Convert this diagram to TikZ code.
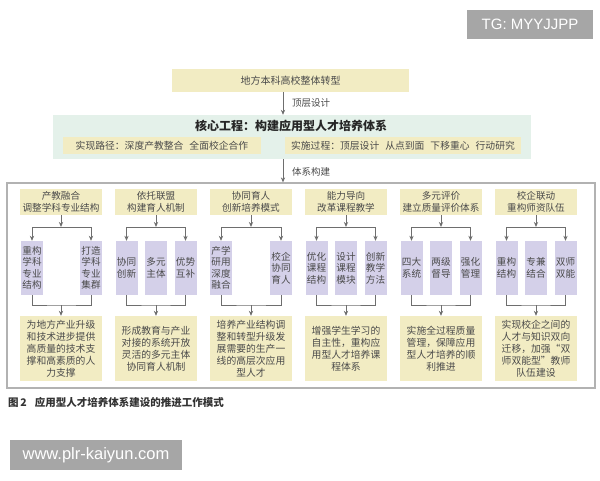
\documentclass[tikz,border=0pt]{standalone}
\usepackage{fontspec}
\setmainfont{Noto Sans CJK SC}
\newfontfamily\wmfont{Liberation Sans}
\usetikzlibrary{arrows.meta}

\definecolor{boxyellow}{HTML}{F2ECC3}
\definecolor{boxmint}{HTML}{E4F1EA}
\definecolor{boxpurple}{HTML}{D4D0E9}
\definecolor{textgray}{HTML}{4A4A4A}
\definecolor{linegray}{HTML}{6E6E6E}
\definecolor{wmgray}{HTML}{A6A6A6}

\newcommand{\gapsp}{\hspace{6pt}}

\tikzset{
  every node/.style={text=textgray},
  headbox/.style={fill=boxyellow, minimum width=82pt, minimum height=26pt, inner sep=0pt,
    align=center, font=\fontsize{9.6}{12.3}\selectfont},
  subbox/.style={fill=boxpurple, minimum width=22pt, minimum height=54pt, inner sep=0pt,
    align=center, font=\fontsize{9.6}{11.4}\selectfont},
  resbox/.style={fill=boxyellow, minimum width=82pt, minimum height=65pt, inner sep=0pt,
    align=center, font=\fontsize{9.8}{12}\selectfont},
  line/.style={draw=linegray, line width=0.8pt},
  arr/.style={line, -{Stealth[length=5pt,width=4.2pt]}},
  lab/.style={font=\fontsize{9.5}{11}\selectfont, inner sep=0pt},
}

\begin{document}
\begin{tikzpicture}[x=1pt,y=-1pt]
	\useasboundingbox[fill=white] (0,0) rectangle (600,480);

	% watermarks
	\node[fill=wmgray, minimum width=126pt, minimum height=29pt, inner sep=0pt,
	  text=white, font=\wmfont\fontsize{15}{15}\selectfont] (tg) at (530,24.5) {TG: MYYJJPP};
	\node[fill=wmgray, minimum width=172pt, minimum height=30pt, inner sep=0pt,
	  text=white, font=\wmfont\fontsize{16.5}{16.5}\selectfont] (www) at (96,455) {www.plr-kaiyun.com};

	% top part
	\coordinate (axis) at (283,0);
	\node[fill=boxyellow, minimum width=237pt, minimum height=23pt, inner sep=0pt,
	  font=\fontsize{10}{12}\selectfont] (top) at (290.5,80.5) {地方本科高校整体转型};
	\node[fill=boxmint, minimum width=478pt, minimum height=44pt, inner sep=0pt] (core) at (292,137) {};
	\node[font=\bfseries\fontsize{12}{14}\selectfont, inner sep=0pt, text=black!85] (title) at (291,126) {核心工程：构建应用型人才培养体系};
	\node[fill=boxyellow, minimum width=198pt, minimum height=17pt, inner sep=0pt,
	  font=\fontsize{9.8}{12}\selectfont] (path) at (162,145.5) {实现路径：深度产教整合\gapsp 全面校企合作};
	\node[fill=boxyellow, minimum width=236pt, minimum height=17pt, inner sep=0pt,
	  font=\fontsize{9.8}{12}\selectfont] (proc) at (403,145.5) {实施过程：顶层设计\gapsp 从点到面\gapsp 下移重心\gapsp 行动研究};

	\node[draw=black!30, line width=1.2pt, fill=white, minimum width=588pt, minimum height=205pt,
	  inner sep=0pt] (frame) at (301,285.5) {};

	\draw[arr] (top.south -| axis) -- (core.north -| axis);
	\node[lab] (l1) at (311,103) {顶层设计};
	\draw[arr] (core.south -| axis) -- (frame.north -| axis);
	\node[lab] (l2) at (311,172) {体系构建};

	% column 1
	\begin{scope}[xshift=61pt]
	\coordinate (t1) at (0,227);
	\coordinate (b1) at (0,305);
	\node[headbox] (h1) at (0,202) {产教融合\\调整学科专业结构};
	\node[subbox] (s1a) at (-29,268) {重构\\学科\\专业\\结构};
	\node[subbox] (s1b) at (30,268) {打造\\学科\\专业\\集群};
	\node[resbox] (r1) at (0,348.5) {为地方产业升级\\和技术进步提供\\高质量的技术支\\撑和高素质的人\\力支撑};
	\draw[arr] (h1.south) -- (t1);
	\draw[line] (s1a.north |- t1) -- (s1b.north |- t1);
	\draw[arr] (s1a.north |- t1) -- (s1a.north);
	\draw[arr] (s1b.north |- t1) -- (s1b.north);
	\draw[line] (s1a.south) |- (b1) -| (s1b.south);
	\draw[arr] (b1) -- (r1.north);
	\end{scope}

	% column 2
	\begin{scope}[xshift=156pt]
	\coordinate (t2) at (0,227);
	\coordinate (b2) at (0,305);
	\node[headbox] (h2) at (0,202) {依托联盟\\构建育人机制};
	\node[subbox] (s2a) at (-29.5,268) {协同\\创新};
	\node[subbox] (s2b) at (0,268) {多元\\主体};
	\node[subbox] (s2c) at (29.5,268) {优势\\互补};
	\node[resbox] (r2) at (0,348.5) {形成教育与产业\\对接的系统开放\\灵活的多元主体\\协同育人机制};
	\draw[arr] (h2.south) -- (t2);
	\draw[line] (s2a.north |- t2) -- (s2c.north |- t2);
	\draw[arr] (s2a.north |- t2) -- (s2a.north);
	\draw[arr] (s2c.north |- t2) -- (s2c.north);
	\draw[line] (s2a.south) |- (b2) -| (s2c.south);
	\draw[arr] (b2) -- (r2.north);
	\end{scope}

	% column 3
	\begin{scope}[xshift=251pt]
	\coordinate (t3) at (0,227);
	\coordinate (b3) at (0,305);
	\node[headbox] (h3) at (0,202) {协同育人\\创新培养模式};
	\node[subbox] (s3a) at (-30,268) {产学\\研用\\深度\\融合};
	\node[subbox] (s3b) at (30,268) {校企\\协同\\育人};
	\node[resbox] (r3) at (0,348.5) {培养产业结构调\\整和转型升级发\\展需要的生产一\\线的高层次应用\\型人才};
	\draw[arr] (h3.south) -- (t3);
	\draw[line] (s3a.north |- t3) -- (s3b.north |- t3);
	\draw[arr] (s3a.north |- t3) -- (s3a.north);
	\draw[arr] (s3b.north |- t3) -- (s3b.north);
	\draw[line] (s3a.south) |- (b3) -| (s3b.south);
	\draw[arr] (b3) -- (r3.north);
	\end{scope}

	% column 4
	\begin{scope}[xshift=346pt]
	\coordinate (t4) at (0,227);
	\coordinate (b4) at (0,305);
	\node[headbox] (h4) at (0,202) {能力导向\\改革课程教学};
	\node[subbox] (s4a) at (-29.5,268) {优化\\课程\\结构};
	\node[subbox] (s4b) at (0,268) {设计\\课程\\模块};
	\node[subbox] (s4c) at (29.5,268) {创新\\教学\\方法};
	\node[resbox] (r4) at (0,348.5) {增强学生学习的\\自主性，重构应\\用型人才培养课\\程体系};
	\draw[arr] (h4.south) -- (t4);
	\draw[line] (s4a.north |- t4) -- (s4c.north |- t4);
	\draw[arr] (s4a.north |- t4) -- (s4a.north);
	\draw[arr] (s4c.north |- t4) -- (s4c.north);
	\draw[line] (s4a.south) |- (b4) -| (s4c.south);
	\draw[arr] (b4) -- (r4.north);
	\end{scope}

	% column 5
	\begin{scope}[xshift=441pt]
	\coordinate (t5) at (0,227);
	\coordinate (b5) at (0,305);
	\node[headbox] (h5) at (0,202) {多元评价\\建立质量评价体系};
	\node[subbox] (s5a) at (-29.5,268) {四大\\系统};
	\node[subbox] (s5b) at (0,268) {两级\\督导};
	\node[subbox] (s5c) at (29.5,268) {强化\\管理};
	\node[resbox] (r5) at (0,348.5) {实施全过程质量\\管理，保障应用\\型人才培养的顺\\利推进};
	\draw[arr] (h5.south) -- (t5);
	\draw[line] (s5a.north |- t5) -- (s5c.north |- t5);
	\draw[arr] (s5a.north |- t5) -- (s5a.north);
	\draw[arr] (s5c.north |- t5) -- (s5c.north);
	\draw[line] (s5a.south) |- (b5) -| (s5c.south);
	\draw[arr] (b5) -- (r5.north);
	\end{scope}

	% column 6
	\begin{scope}[xshift=536pt]
	\coordinate (t6) at (0,227);
	\coordinate (b6) at (0,305);
	\node[headbox] (h6) at (0,202) {校企联动\\重构师资队伍};
	\node[subbox] (s6a) at (-29.5,268) {重构\\结构};
	\node[subbox] (s6b) at (0,268) {专兼\\结合};
	\node[subbox] (s6c) at (29.5,268) {双师\\双能};
	\node[resbox] (r6) at (0,348.5) {实现校企之间的\\人才与知识双向\\迁移，加强“双\\师双能型”教师\\队伍建设};
	\draw[arr] (h6.south) -- (t6);
	\draw[line] (s6a.north |- t6) -- (s6c.north |- t6);
	\draw[arr] (s6a.north |- t6) -- (s6a.north);
	\draw[arr] (s6c.north |- t6) -- (s6c.north);
	\draw[line] (s6a.south) |- (b6) -| (s6c.south);
	\draw[arr] (b6) -- (r6.north);
	\end{scope}

	% caption
	\node[anchor=west, inner sep=0pt, text=black!80, font=\bfseries\fontsize{10.5}{12}\selectfont]
	  (cap) at (8,402) {图\,2\hspace{8pt}应用型人才培养体系建设的推进工作模式};
\end{tikzpicture}
\end{document}
